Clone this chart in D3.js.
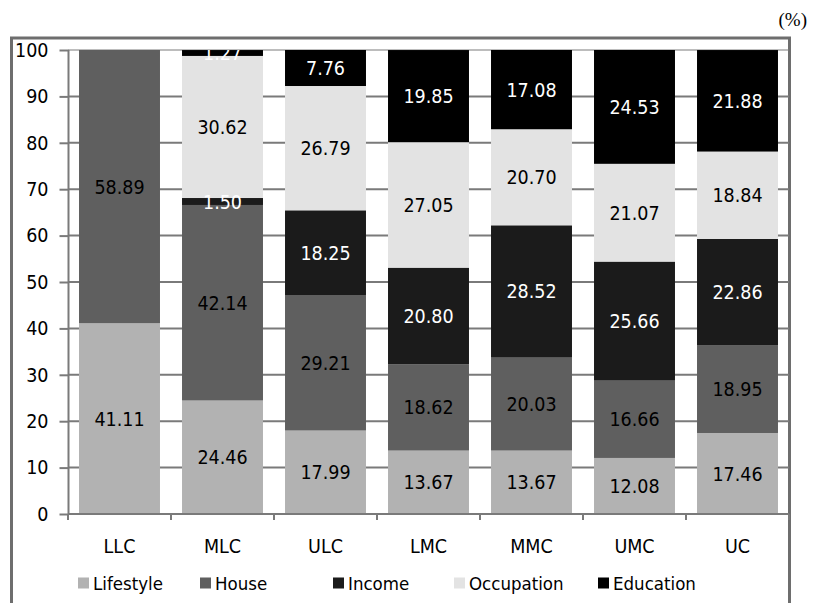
<!DOCTYPE html>
<html>
<head>
<meta charset="utf-8">
<script src="https://cdn.jsdelivr.net/npm/d3@7"></script>
<style>
  html, body { margin: 0; padding: 0; background: #fff; }
  svg { display: block; }
  .lbl { font-family: "DejaVu Sans Condensed", "DejaVu Sans", sans-serif; font-stretch: condensed; }
</style>
</head>
<body>
<svg id="chart" width="820" height="603"></svg>
<script>
// Class categories along the x axis
const categories = ["LLC", "MLC", "ULC", "LMC", "MMC", "UMC", "UC"];
// Stacked series, bottom to top (percent shares per class)
const seriesNames = ["Lifestyle", "House", "Income", "Occupation", "Education"];
const lifestyle  = [41.11, 24.46, 17.99, 13.67, 13.67, 12.08, 17.46];
const house      = [58.89, 42.14, 29.21, 18.62, 20.03, 16.66, 18.95];
const income     = [0,      1.50, 18.25, 20.80, 28.52, 25.66, 22.86];
const occupation = [0,     30.62, 26.79, 27.05, 20.70, 21.07, 18.84];
const education  = [0,      1.27,  7.76, 19.85, 17.08, 24.53, 21.88];
const yTicks = [0, 10, 20, 30, 40, 50, 60, 70, 80, 90, 100];

const seriesValues = [lifestyle, house, income, occupation, education];
const colors = ["#b2b2b2", "#5f5f5f", "#1b1b1b", "#e3e3e3", "#000000"];
const textColors = ["#000", "#000", "#fff", "#000", "#fff"];

const rows = categories.map((c, i) => {
  const r = { cat: c };
  seriesNames.forEach((s, k) => { r[s] = seriesValues[k][i]; });
  return r;
});

const svg = d3.select("#chart");
const x = d3.scaleBand().domain(categories).range([68, 789])
  .paddingInner(0.214).paddingOuter(0.107);
const y = d3.scaleLinear().domain([0, 100]).range([514, 50]);

// plot-area clip for the segment labels
svg.append("defs").append("clipPath").attr("id", "plotClip")
  .append("rect").attr("x", 68).attr("y", y(100)).attr("width", 721).attr("height", y(0) - y(100));

// outer frame
svg.append("rect").attr("x", 11.5).attr("y", 38).attr("width", 778).attr("height", 580)
  .attr("fill", "none").attr("stroke", "#6e6e6e").attr("stroke-width", 3);

// unit note
svg.append("text").attr("x", 807).attr("y", 26).attr("text-anchor", "end")
  .attr("font-family", "'Liberation Serif', 'Times New Roman', serif").attr("font-size", 19)
  .text("(%)");

// horizontal gridlines
svg.append("g").selectAll("line").data(yTicks.filter(d => d > 0)).join("line")
  .attr("x1", 68).attr("x2", 789)
  .attr("y1", d => y(d)).attr("y2", d => y(d))
  .attr("stroke", "#7a7a7a").attr("stroke-width", d => d === 100 ? 1 : 2);

// stacked bars
const stack = d3.stack().keys(seriesNames)(rows);
const layers = svg.append("g").selectAll("g").data(stack).join("g")
  .attr("fill", (d, i) => colors[i]);
layers.selectAll("rect").data(d => d.filter(p => p[1] - p[0] > 0)).join("rect")
  .attr("x", d => x(d.data.cat))
  .attr("width", x.bandwidth())
  .attr("y", d => y(d[1]))
  .attr("height", d => y(d[0]) - y(d[1]));

// segment value labels
const labelG = svg.append("g").attr("clip-path", "url(#plotClip)");
stack.forEach((layer, k) => {
  labelG.append("g").selectAll("text").data(layer.filter(p => p[1] - p[0] > 0)).join("text")
    .attr("class", "lbl")
    .attr("x", d => x(d.data.cat) + x.bandwidth() / 2)
    .attr("y", d => (y(d[0]) + y(d[1])) / 2)
    .attr("dy", "0.36em")
    .attr("text-anchor", "middle")
    .attr("font-size", 19.5)
    .attr("fill", textColors[k])
    .text(d => d.data[seriesNames[k]].toFixed(2));
});

// y axis
const yAxis = d3.axisLeft(y).tickValues(yTicks).tickSize(9).tickPadding(11);
const gy = svg.append("g").attr("transform", "translate(68.5,0)").call(yAxis);
gy.select(".domain").attr("stroke", "#7a7a7a").attr("stroke-width", 2).attr("d", "M0,50V514");
gy.selectAll(".tick line").attr("stroke", "#7a7a7a").attr("stroke-width", 2);
gy.selectAll(".tick text").attr("class", "lbl").attr("font-size", 19.5).attr("fill", "#000");

// x axis: baseline with boundary ticks, labels centred in each band
const gx = svg.append("g");
gx.append("line").attr("x1", 68).attr("x2", 789).attr("y1", 514).attr("y2", 514)
  .attr("stroke", "#7a7a7a").attr("stroke-width", 2);
const bounds = d3.range(categories.length + 1).map(i => 68 + i * x.step());
gx.selectAll("line.b").data(bounds).join("line").attr("class", "b")
  .attr("x1", d => d).attr("x2", d => d).attr("y1", 514).attr("y2", 520)
  .attr("stroke", "#7a7a7a").attr("stroke-width", 2);
gx.selectAll("text").data(categories).join("text")
  .attr("class", "lbl")
  .attr("x", d => x(d) + x.bandwidth() / 2).attr("y", 546).attr("dy", "0.36em")
  .attr("text-anchor", "middle").attr("font-size", 19.5).text(d => d);

// legend
const legendX = [78, 200, 333, 454, 598];
const lg = svg.append("g").selectAll("g").data(seriesNames).join("g")
  .attr("transform", (d, i) => `translate(${legendX[i]},583)`);
lg.append("rect").attr("x", 0).attr("y", -5.5).attr("width", 11).attr("height", 11)
  .attr("fill", (d, i) => colors[i]);
lg.append("text").attr("class", "lbl").attr("x", 15).attr("dy", "0.36em")
  .attr("font-size", 18.5).text(d => d);
</script>
</body>
</html>
